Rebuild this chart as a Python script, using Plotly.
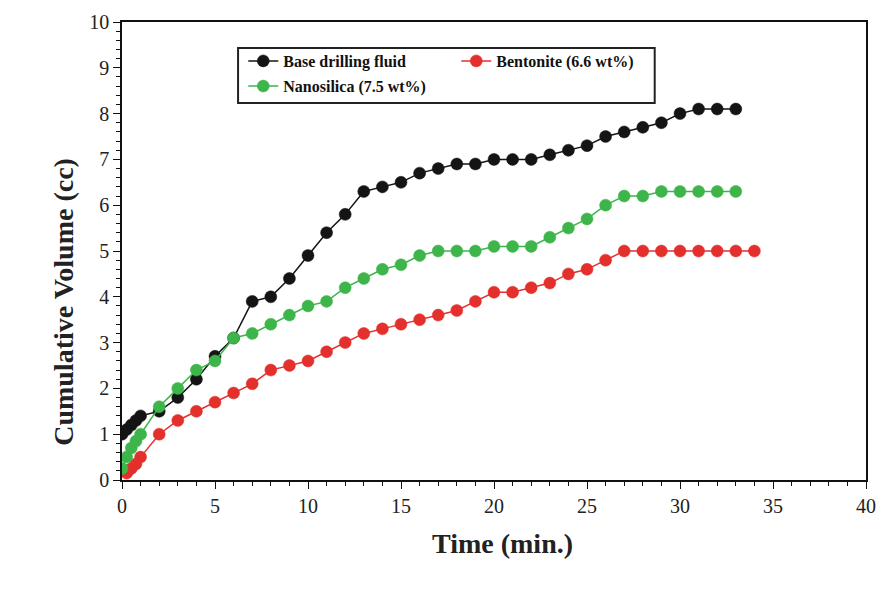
import plotly.graph_objects as go

# Filtration time (minutes) for each fluid
base_time = [0, 0.25, 0.5, 0.75, 1] + list(range(2, 34))
bent_time = [0.25, 0.5, 0.75, 1] + list(range(2, 35))
nano_time = [0, 0.25, 0.5, 0.75, 1] + list(range(2, 34))

# Cumulative filtrate volume (cc)
base_vol = [1.0, 1.1, 1.2, 1.3, 1.4,
            1.5, 1.8, 2.2, 2.7, 3.1, 3.9, 4.0, 4.4, 4.9, 5.4, 5.8, 6.3,
            6.4, 6.5, 6.7, 6.8, 6.9, 6.9, 7.0, 7.0, 7.0, 7.1, 7.2, 7.3,
            7.5, 7.6, 7.7, 7.8, 8.0, 8.1, 8.1, 8.1]
bent_vol = [0.15, 0.25, 0.35, 0.5,
            1.0, 1.3, 1.5, 1.7, 1.9, 2.1, 2.4, 2.5, 2.6, 2.8, 3.0, 3.2,
            3.3, 3.4, 3.5, 3.6, 3.7, 3.9, 4.1, 4.1, 4.2, 4.3, 4.5, 4.6,
            4.8, 5.0, 5.0, 5.0, 5.0, 5.0, 5.0, 5.0, 5.0]
nano_vol = [0.25, 0.5, 0.7, 0.85, 1.0,
            1.6, 2.0, 2.4, 2.6, 3.1, 3.2, 3.4, 3.6, 3.8, 3.9, 4.2, 4.4,
            4.6, 4.7, 4.9, 5.0, 5.0, 5.0, 5.1, 5.1, 5.1, 5.3, 5.5, 5.7,
            6.0, 6.2, 6.2, 6.3, 6.3, 6.3, 6.3, 6.3]

# (name, time, volume, colour, legend row)
series = [
    ("Base drilling fluid", base_time, base_vol, "#141414", "legend"),
    ("Bentonite (6.6 wt%)", bent_time, bent_vol, "#e3302c", "legend"),
    ("Nanosilica (7.5 wt%)", nano_time, nano_vol, "#3db54b", "legend2"),
]

serif = "Liberation Serif"
title_font = dict(family=serif, size=28, color="#222222", weight="bold")
legend_font = dict(family=serif, size=16, color="#111111", weight="bold")

fig = go.Figure()
for name, t, v, color, leg in series:
    fig.add_trace(go.Scatter(
        x=t, y=v, name=name, mode="lines+markers", legend=leg,
        line=dict(color=color, width=1.5),
        marker=dict(color=color, size=12, line=dict(color=color, width=0.5)),
    ))

axis_common = dict(
    showline=True, linecolor="#111111", linewidth=1.5, mirror=True,
    ticks="outside", ticklen=7, tickwidth=1.2, tickcolor="#111111",
    showgrid=False, zeroline=False, automargin=False,
    tickfont=dict(family=serif, size=20, color="#222222"),
)

fig.update_xaxes(
    range=[0, 40], tickmode="linear", tick0=0, dtick=5,
    minor=dict(dtick=1, ticks="outside", ticklen=4, tickcolor="#111111"),
    **axis_common,
)
fig.update_yaxes(
    range=[0, 10], tickmode="linear", tick0=0, dtick=1,
    minor=dict(dtick=0.2, ticks="outside", ticklen=4, tickcolor="#111111"),
    **axis_common,
)

# Axis titles placed as paper-anchored annotations
fig.add_annotation(text="Time (min.)", xref="paper", yref="paper",
                   x=0.511, y=0, yshift=-63, xanchor="center", yanchor="middle",
                   showarrow=False, font=title_font)
fig.add_annotation(text="Cumulative Volume (cc)", xref="paper", yref="paper",
                   x=0, xshift=-58, y=0.389, xanchor="center", yanchor="middle",
                   textangle=-90, showarrow=False, font=title_font)

# Frame around the two legend rows
fig.add_shape(type="rect", xref="paper", yref="paper",
              x0=0.156, x1=0.716, y0=0.823, y1=0.943,
              line=dict(color="#222222", width=2), fillcolor="white", layer="below")

legend_common = dict(
    orientation="h", xanchor="left", yanchor="top",
    borderwidth=0, bgcolor="rgba(0,0,0,0)", font=legend_font, itemwidth=30,
)

fig.update_layout(
    width=879, height=599,
    margin=dict(l=122, r=13, t=22, b=119, autoexpand=False),
    plot_bgcolor="white", paper_bgcolor="white",
    legend=dict(x=0.163, y=0.952, entrywidth=168, entrywidthmode="pixels",
                traceorder="normal", **legend_common),
    legend2=dict(x=0.163, y=0.897, **legend_common),
    showlegend=True,
)

fig.write_html("out.html")
